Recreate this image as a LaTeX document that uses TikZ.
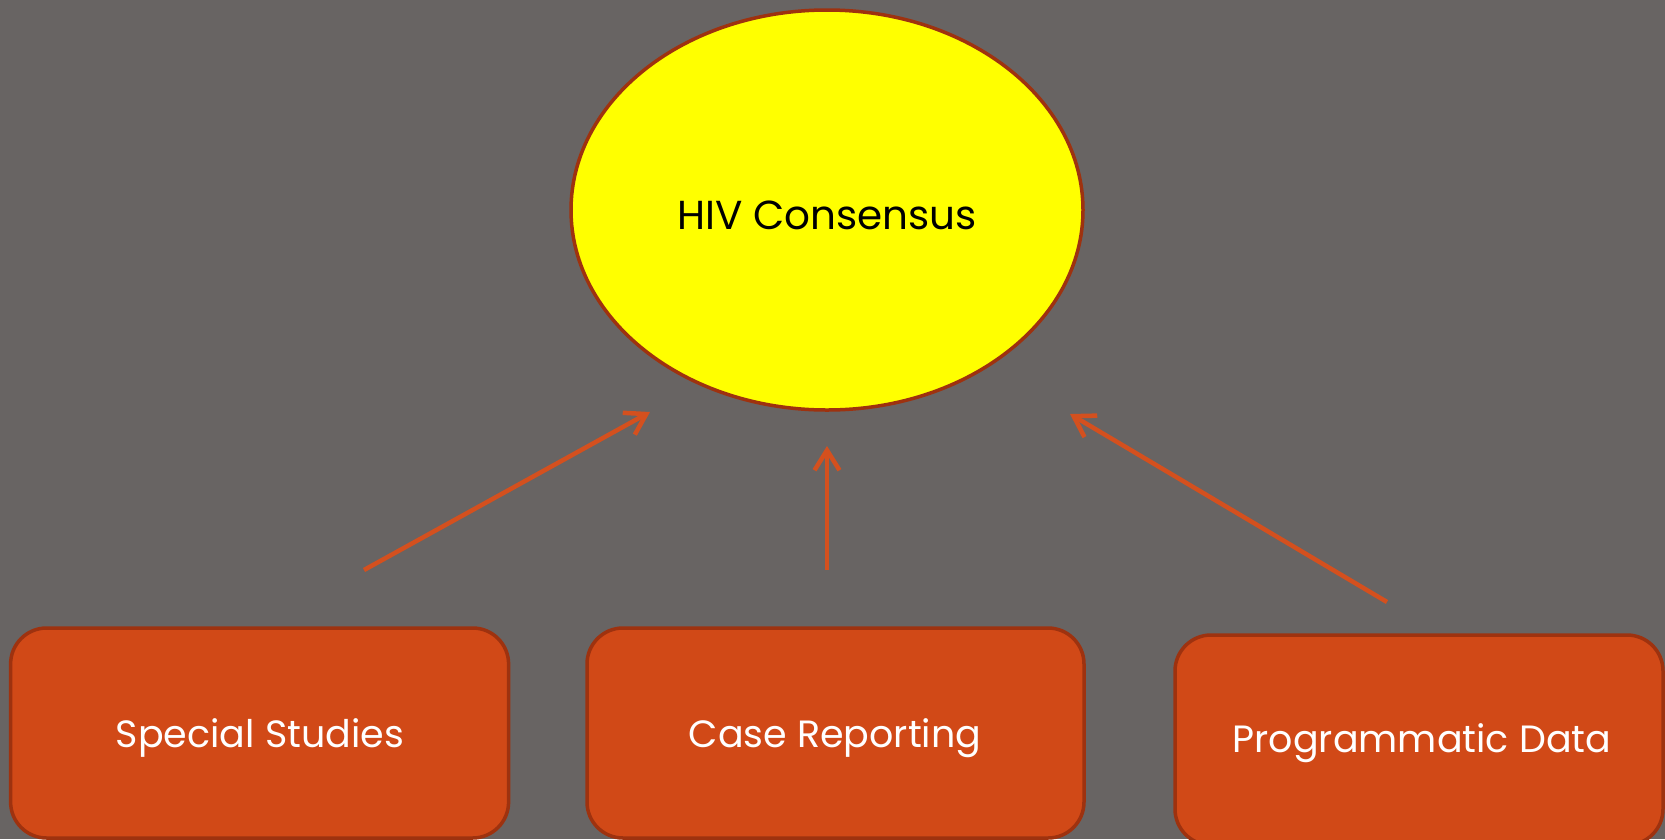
\documentclass[tikz,border=0pt]{standalone}
\usepackage{fontspec}
\setmainfont{Poppins}
\usetikzlibrary{arrows.meta,shapes.geometric}
\definecolor{bg}{RGB}{104,100,99}
\definecolor{boxfill}{RGB}{209,73,23}
\definecolor{boxline}{RGB}{158,50,15}
\definecolor{arrowc}{RGB}{212,80,30}
\definecolor{ylw}{RGB}{255,255,0}
\tikzset{
  boxnode/.style={draw=boxline, line width=3.5pt, fill=boxfill, rounded corners=36pt,
    minimum height=210pt, inner sep=0pt},
  boxtext/.style={text=white, font=\fontsize{38pt}{44pt}\selectfont},
  conn/.style={draw=arrowc, line width=4.5pt, -{Straight Barb[length=20pt,width=25pt,line width=4.5pt]}}
}
\begin{document}
\begin{tikzpicture}[x=1pt,y=-1pt]
\fill[bg] (0,0) rectangle (1665,839);
\useasboundingbox (0,0) rectangle (1665,839);
\node[ellipse, draw=boxline, line width=3.5pt, fill=ylw, minimum width=512pt, minimum height=400pt, inner sep=0pt] (hiv) at (827,210) {};
\node[font=\fontsize{40.5pt}{46pt}\selectfont, text=black] (hivt) at (827,215) {HIV Consensus};
\node[boxnode, minimum width=498pt] (ss) at (259.6,733) {};
\node[boxtext] (sst) at (260,738) {Special Studies};
\node[boxnode, minimum width=497pt] (cr) at (835.5,733) {};
\node[boxtext] (crt) at (835,738) {Case Reporting};
\node[boxnode, minimum width=488pt] (pd) at (1419,740) {};
\node[boxtext] (pdt) at (1422,743) {Programmatic Data};
\coordinate (a1s) at (364,570);
\coordinate (a1e) at (650,412);
\coordinate (a2s) at (827,570);
\coordinate (a2e) at (827,446);
\coordinate (a3s) at (1387,602);
\coordinate (a3e) at (1070,414);
\draw[conn] (a1s) -- (a1e);
\draw[conn] (a2s) -- (a2e);
\draw[conn] (a3s) -- (a3e);
\end{tikzpicture}
\end{document}
